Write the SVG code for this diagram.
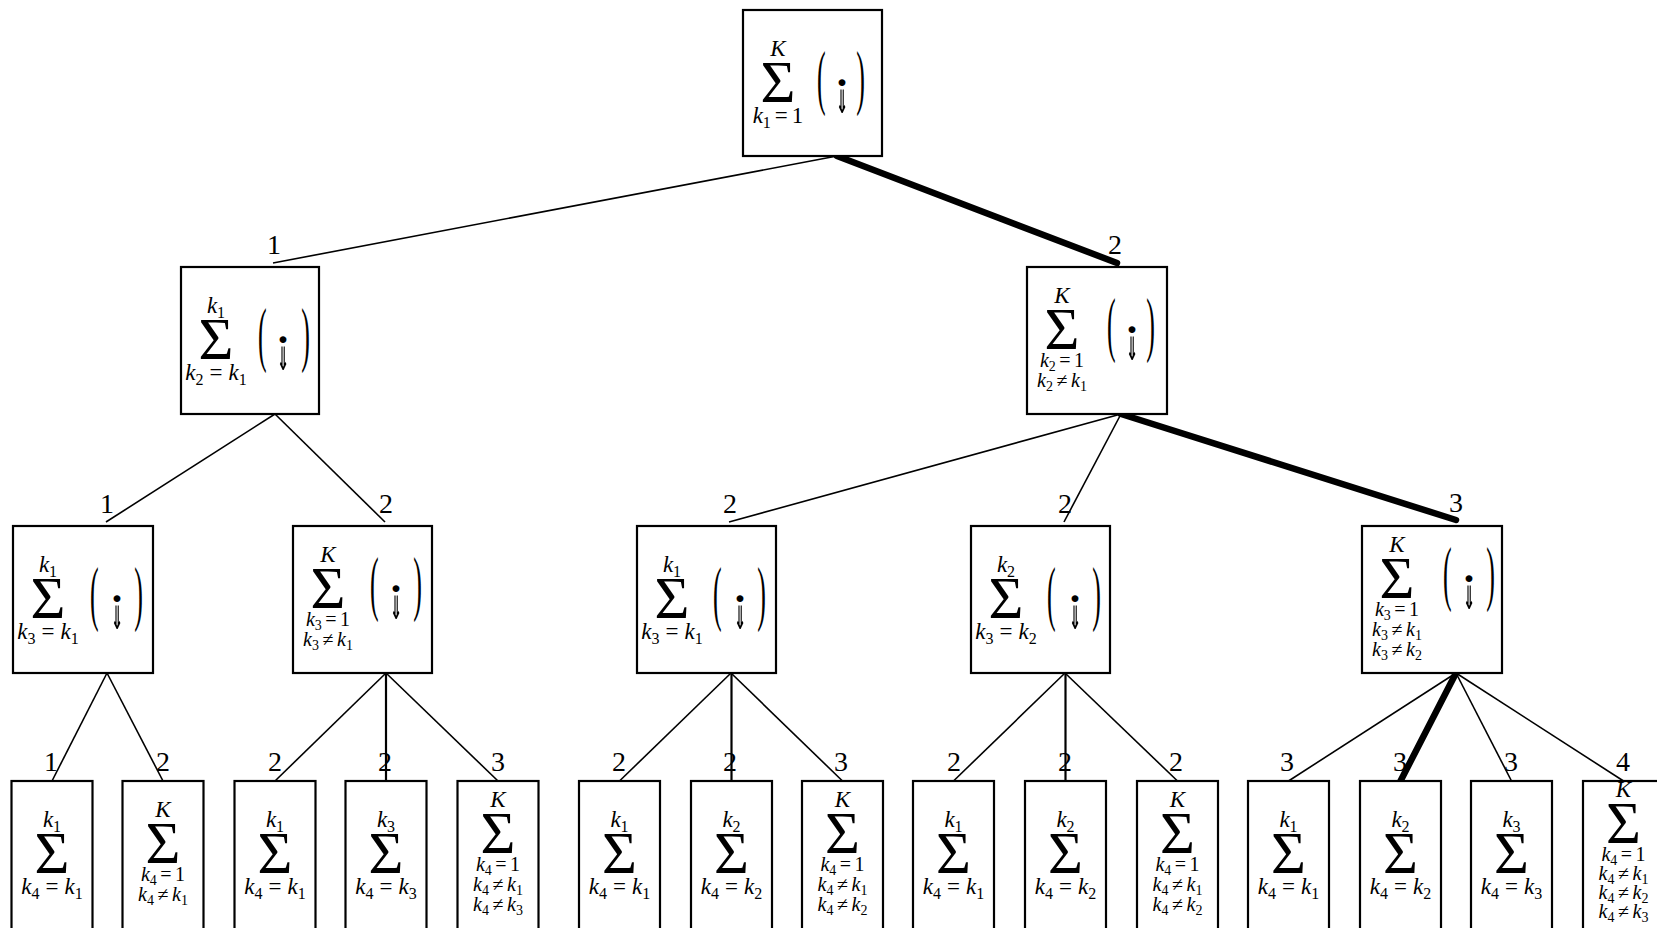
<svg xmlns="http://www.w3.org/2000/svg" width="1657" height="928" viewBox="0 0 1657 928">
<defs>
<filter id="bw" x="-20%" y="-20%" width="140%" height="140%"><feColorMatrix type="saturate" values="0"/></filter>
</defs>
<style>
.box{fill:#fff;stroke:#000;stroke-width:2.2}
.lim{font-family:"Liberation Serif",serif;font-style:italic;font-size:23px;text-anchor:middle}
.lim2{font-family:"Liberation Serif",serif;font-style:italic;font-size:20px;text-anchor:middle}
.s{font-style:normal;font-size:16px}
.lim2 .s{font-size:14px}
.r{font-style:normal}
.sig{font-family:"Liberation Serif",serif;font-size:60px;text-anchor:middle}
.par{font-family:"Liberation Serif",serif;font-size:26px}
.e{text-anchor:end}
.dot{font-family:"Liberation Serif",serif;font-size:42px;font-weight:bold;text-anchor:middle}
.arr{font-family:"DejaVu Sans",sans-serif;font-size:17px;font-weight:bold;text-anchor:middle;fill:#000;filter:url(#bw)}
.lbl{font-family:"Liberation Serif",serif;font-size:28px;text-anchor:middle}
.ln{stroke:#000;stroke-width:1.6;fill:none}
.vl{stroke:#000;stroke-width:2.2;fill:none}
.thick{stroke:#000;stroke-width:6.5;stroke-linecap:round;fill:none}
</style>
<rect width="1657" height="928" fill="#fff"/>
<g id="connectors">
<line class="ln" x1="837" y1="156" x2="273" y2="263"/>
<line class="thick" x1="837" y1="156" x2="1117" y2="263"/>
<line class="ln" x1="275" y1="414" x2="106" y2="522"/>
<line class="ln" x1="275" y1="414" x2="385" y2="522"/>
<line class="ln" x1="1121" y1="414" x2="729" y2="522"/>
<line class="ln" x1="1121" y1="414" x2="1064" y2="522"/>
<line class="thick" x1="1121" y1="414" x2="1456" y2="520"/>
<line class="ln" x1="107" y1="673" x2="52" y2="781"/>
<line class="ln" x1="107" y1="673" x2="163" y2="781"/>
<line class="ln" x1="386" y1="673" x2="275" y2="781"/>
<line class="vl" x1="386" y1="673" x2="386" y2="781"/>
<line class="ln" x1="386" y1="673" x2="498" y2="781"/>
<line class="ln" x1="731" y1="673" x2="619.5" y2="781"/>
<line class="vl" x1="731.5" y1="673" x2="731.5" y2="781"/>
<line class="ln" x1="731" y1="673" x2="842.5" y2="781"/>
<line class="ln" x1="1065" y1="673" x2="953.5" y2="781"/>
<line class="vl" x1="1065.5" y1="673" x2="1065.5" y2="781"/>
<line class="ln" x1="1065" y1="673" x2="1177.5" y2="781"/>
<line class="ln" x1="1456" y1="673" x2="1288.5" y2="781"/>
<line class="thick" x1="1456" y1="673" x2="1400.5" y2="781"/>
<line class="ln" x1="1456" y1="673" x2="1511.5" y2="781"/>
<line class="ln" x1="1456" y1="673" x2="1623.5" y2="781"/>
<text class="lbl" x="274" y="254">1</text>
<text class="lbl" x="1115" y="254">2</text>
<text class="lbl" x="107" y="513">1</text>
<text class="lbl" x="386" y="513">2</text>
<text class="lbl" x="730" y="513">2</text>
<text class="lbl" x="1065" y="513">2</text>
<text class="lbl" x="1456" y="512">3</text>
<text class="lbl" x="51" y="771">1</text>
<text class="lbl" x="163" y="771">2</text>
<text class="lbl" x="275" y="771">2</text>
<text class="lbl" x="385" y="771">2</text>
<text class="lbl" x="498" y="771">3</text>
<text class="lbl" x="619" y="771">2</text>
<text class="lbl" x="730" y="771">2</text>
<text class="lbl" x="841" y="771">3</text>
<text class="lbl" x="954" y="771">2</text>
<text class="lbl" x="1065" y="771">2</text>
<text class="lbl" x="1176" y="771">2</text>
<text class="lbl" x="1287" y="771">3</text>
<text class="lbl" x="1400" y="771">3</text>
<text class="lbl" x="1511" y="771">3</text>
<text class="lbl" x="1623" y="771">4</text>
</g>

<g id="root">
<rect class="box" x="743" y="10" width="139" height="146"/>
<text class="lim" x="778" y="56">K</text>
<text class="sig" x="778" y="102">Σ</text>
<text class="lim" x="778" y="123"><tspan>k</tspan><tspan class="s" dy="5">1</tspan><tspan class="r" dx="4" dy="-5">=</tspan><tspan class="r" dx="4">1</tspan></text>
<text class="par" transform="translate(817,83) scale(1,2.8)" y="6.6">(</text>
<text class="par e" transform="translate(865,83) scale(1,2.8)" y="6.6">)</text>
<text class="dot" x="842" y="97">·</text>
<text class="arr" transform="translate(842,113) scale(0.85,1.9)">⇓</text>
</g>

<g id="n2a">
<rect class="box" x="181" y="267" width="138" height="147"/>
<text class="lim" x="216" y="313">k<tspan class="s" dy="5">1</tspan></text>
<text class="sig" x="216" y="359">Σ</text>
<text class="lim" x="216" y="380"><tspan>k</tspan><tspan class="s" dy="5">2</tspan><tspan class="r" dx="6" dy="-5">=</tspan><tspan dx="6">k</tspan><tspan class="s" dy="5">1</tspan></text>
<text class="par" transform="translate(258,340) scale(1,2.8)" y="6.6">(</text>
<text class="par e" transform="translate(310,340) scale(1,2.8)" y="6.6">)</text>
<text class="dot" x="283" y="354">·</text>
<text class="arr" transform="translate(283,370) scale(0.85,1.9)">⇓</text>
</g>

<g id="n2b">
<rect class="box" x="1027" y="267" width="140" height="147"/>
<text class="lim" x="1062" y="303">K</text>
<text class="sig" x="1062" y="349">Σ</text>
<text class="lim2" x="1062" y="367"><tspan>k</tspan><tspan class="s" dy="4">2</tspan><tspan class="r" dx="3.5" dy="-4">=</tspan><tspan class="r" dx="3.5">1</tspan></text>
<text class="lim2" x="1062" y="387"><tspan>k</tspan><tspan class="s" dy="4">2</tspan><tspan class="r" dx="3.5" dy="-4">≠</tspan><tspan dx="3.5">k</tspan><tspan class="s" dy="4">1</tspan></text>
<text class="par" transform="translate(1107,330) scale(1,2.8)" y="6.6">(</text>
<text class="par e" transform="translate(1155,330) scale(1,2.8)" y="6.6">)</text>
<text class="dot" x="1132" y="344">·</text>
<text class="arr" transform="translate(1132,360) scale(0.85,1.9)">⇓</text>
</g>

<g id="n3a">
<rect class="box" x="13" y="526" width="140" height="147"/>
<text class="lim" x="48" y="572">k<tspan class="s" dy="5">1</tspan></text>
<text class="sig" x="48" y="618">Σ</text>
<text class="lim" x="48" y="639"><tspan>k</tspan><tspan class="s" dy="5">3</tspan><tspan class="r" dx="6" dy="-5">=</tspan><tspan dx="6">k</tspan><tspan class="s" dy="5">1</tspan></text>
<text class="par" transform="translate(90,599) scale(1,2.8)" y="6.6">(</text>
<text class="par e" transform="translate(143,599) scale(1,2.8)" y="6.6">)</text>
<text class="dot" x="117" y="613">·</text>
<text class="arr" transform="translate(117,629) scale(0.85,1.9)">⇓</text>
</g>

<g id="n3b">
<rect class="box" x="293" y="526" width="139" height="147"/>
<text class="lim" x="328" y="562">K</text>
<text class="sig" x="328" y="608">Σ</text>
<text class="lim2" x="328" y="626"><tspan>k</tspan><tspan class="s" dy="4">3</tspan><tspan class="r" dx="3.5" dy="-4">=</tspan><tspan class="r" dx="3.5">1</tspan></text>
<text class="lim2" x="328" y="646"><tspan>k</tspan><tspan class="s" dy="4">3</tspan><tspan class="r" dx="3.5" dy="-4">≠</tspan><tspan dx="3.5">k</tspan><tspan class="s" dy="4">1</tspan></text>
<text class="par" transform="translate(370,589) scale(1,2.8)" y="6.6">(</text>
<text class="par e" transform="translate(422,589) scale(1,2.8)" y="6.6">)</text>
<text class="dot" x="396" y="603">·</text>
<text class="arr" transform="translate(396,619) scale(0.85,1.9)">⇓</text>
</g>

<g id="n3c">
<rect class="box" x="637" y="526" width="139" height="147"/>
<text class="lim" x="672" y="572">k<tspan class="s" dy="5">1</tspan></text>
<text class="sig" x="672" y="618">Σ</text>
<text class="lim" x="672" y="639"><tspan>k</tspan><tspan class="s" dy="5">3</tspan><tspan class="r" dx="6" dy="-5">=</tspan><tspan dx="6">k</tspan><tspan class="s" dy="5">1</tspan></text>
<text class="par" transform="translate(713,599) scale(1,2.8)" y="6.6">(</text>
<text class="par e" transform="translate(766,599) scale(1,2.8)" y="6.6">)</text>
<text class="dot" x="740" y="613">·</text>
<text class="arr" transform="translate(740,629) scale(0.85,1.9)">⇓</text>
</g>

<g id="n3d">
<rect class="box" x="971" y="526" width="139" height="147"/>
<text class="lim" x="1006" y="572">k<tspan class="s" dy="5">2</tspan></text>
<text class="sig" x="1006" y="618">Σ</text>
<text class="lim" x="1006" y="639"><tspan>k</tspan><tspan class="s" dy="5">3</tspan><tspan class="r" dx="6" dy="-5">=</tspan><tspan dx="6">k</tspan><tspan class="s" dy="5">2</tspan></text>
<text class="par" transform="translate(1047,599) scale(1,2.8)" y="6.6">(</text>
<text class="par e" transform="translate(1101,599) scale(1,2.8)" y="6.6">)</text>
<text class="dot" x="1075" y="613">·</text>
<text class="arr" transform="translate(1075,629) scale(0.85,1.9)">⇓</text>
</g>

<g id="n3e">
<rect class="box" x="1362" y="526" width="140" height="147"/>
<text class="lim" x="1397" y="552">K</text>
<text class="sig" x="1397" y="598">Σ</text>
<text class="lim2" x="1397" y="616"><tspan>k</tspan><tspan class="s" dy="4">3</tspan><tspan class="r" dx="3.5" dy="-4">=</tspan><tspan class="r" dx="3.5">1</tspan></text>
<text class="lim2" x="1397" y="636"><tspan>k</tspan><tspan class="s" dy="4">3</tspan><tspan class="r" dx="3.5" dy="-4">≠</tspan><tspan dx="3.5">k</tspan><tspan class="s" dy="4">1</tspan></text>
<text class="lim2" x="1397" y="656"><tspan>k</tspan><tspan class="s" dy="4">3</tspan><tspan class="r" dx="3.5" dy="-4">≠</tspan><tspan dx="3.5">k</tspan><tspan class="s" dy="4">2</tspan></text>
<text class="par" transform="translate(1443,579) scale(1,2.8)" y="6.6">(</text>
<text class="par e" transform="translate(1495,579) scale(1,2.8)" y="6.6">)</text>
<text class="dot" x="1469" y="593">·</text>
<text class="arr" transform="translate(1469,609) scale(0.85,1.9)">⇓</text>
</g>

<g id="n4-1">
<rect class="box" x="11.5" y="781" width="81" height="150"/>
<text class="lim" x="52" y="827">k<tspan class="s" dy="5">1</tspan></text>
<text class="sig" x="52" y="873">Σ</text>
<text class="lim" x="52" y="894"><tspan>k</tspan><tspan class="s" dy="5">4</tspan><tspan class="r" dx="6" dy="-5">=</tspan><tspan dx="6">k</tspan><tspan class="s" dy="5">1</tspan></text>
</g>
<g id="n4-2">
<rect class="box" x="122.5" y="781" width="81" height="150"/>
<text class="lim" x="163" y="817">K</text>
<text class="sig" x="163" y="863">Σ</text>
<text class="lim2" x="163" y="881"><tspan>k</tspan><tspan class="s" dy="4">4</tspan><tspan class="r" dx="3.5" dy="-4">=</tspan><tspan class="r" dx="3.5">1</tspan></text>
<text class="lim2" x="163" y="901"><tspan>k</tspan><tspan class="s" dy="4">4</tspan><tspan class="r" dx="3.5" dy="-4">≠</tspan><tspan dx="3.5">k</tspan><tspan class="s" dy="4">1</tspan></text>
</g>
<g id="n4-3">
<rect class="box" x="234.5" y="781" width="81" height="150"/>
<text class="lim" x="275" y="827">k<tspan class="s" dy="5">1</tspan></text>
<text class="sig" x="275" y="873">Σ</text>
<text class="lim" x="275" y="894"><tspan>k</tspan><tspan class="s" dy="5">4</tspan><tspan class="r" dx="6" dy="-5">=</tspan><tspan dx="6">k</tspan><tspan class="s" dy="5">1</tspan></text>
</g>
<g id="n4-4">
<rect class="box" x="345.5" y="781" width="81" height="150"/>
<text class="lim" x="386" y="827">k<tspan class="s" dy="5">3</tspan></text>
<text class="sig" x="386" y="873">Σ</text>
<text class="lim" x="386" y="894"><tspan>k</tspan><tspan class="s" dy="5">4</tspan><tspan class="r" dx="6" dy="-5">=</tspan><tspan dx="6">k</tspan><tspan class="s" dy="5">3</tspan></text>
</g>
<g id="n4-5">
<rect class="box" x="457.5" y="781" width="81" height="150"/>
<text class="lim" x="498" y="807">K</text>
<text class="sig" x="498" y="853">Σ</text>
<text class="lim2" x="498" y="871"><tspan>k</tspan><tspan class="s" dy="4">4</tspan><tspan class="r" dx="3.5" dy="-4">=</tspan><tspan class="r" dx="3.5">1</tspan></text>
<text class="lim2" x="498" y="891"><tspan>k</tspan><tspan class="s" dy="4">4</tspan><tspan class="r" dx="3.5" dy="-4">≠</tspan><tspan dx="3.5">k</tspan><tspan class="s" dy="4">1</tspan></text>
<text class="lim2" x="498" y="911"><tspan>k</tspan><tspan class="s" dy="4">4</tspan><tspan class="r" dx="3.5" dy="-4">≠</tspan><tspan dx="3.5">k</tspan><tspan class="s" dy="4">3</tspan></text>
</g>
<g id="n4-6">
<rect class="box" x="579" y="781" width="81" height="150"/>
<text class="lim" x="619.5" y="827">k<tspan class="s" dy="5">1</tspan></text>
<text class="sig" x="619.5" y="873">Σ</text>
<text class="lim" x="619.5" y="894"><tspan>k</tspan><tspan class="s" dy="5">4</tspan><tspan class="r" dx="6" dy="-5">=</tspan><tspan dx="6">k</tspan><tspan class="s" dy="5">1</tspan></text>
</g>
<g id="n4-7">
<rect class="box" x="691" y="781" width="81" height="150"/>
<text class="lim" x="731.5" y="827">k<tspan class="s" dy="5">2</tspan></text>
<text class="sig" x="731.5" y="873">Σ</text>
<text class="lim" x="731.5" y="894"><tspan>k</tspan><tspan class="s" dy="5">4</tspan><tspan class="r" dx="6" dy="-5">=</tspan><tspan dx="6">k</tspan><tspan class="s" dy="5">2</tspan></text>
</g>
<g id="n4-8">
<rect class="box" x="802" y="781" width="81" height="150"/>
<text class="lim" x="842.5" y="807">K</text>
<text class="sig" x="842.5" y="853">Σ</text>
<text class="lim2" x="842.5" y="871"><tspan>k</tspan><tspan class="s" dy="4">4</tspan><tspan class="r" dx="3.5" dy="-4">=</tspan><tspan class="r" dx="3.5">1</tspan></text>
<text class="lim2" x="842.5" y="891"><tspan>k</tspan><tspan class="s" dy="4">4</tspan><tspan class="r" dx="3.5" dy="-4">≠</tspan><tspan dx="3.5">k</tspan><tspan class="s" dy="4">1</tspan></text>
<text class="lim2" x="842.5" y="911"><tspan>k</tspan><tspan class="s" dy="4">4</tspan><tspan class="r" dx="3.5" dy="-4">≠</tspan><tspan dx="3.5">k</tspan><tspan class="s" dy="4">2</tspan></text>
</g>
<g id="n4-9">
<rect class="box" x="913" y="781" width="81" height="150"/>
<text class="lim" x="953.5" y="827">k<tspan class="s" dy="5">1</tspan></text>
<text class="sig" x="953.5" y="873">Σ</text>
<text class="lim" x="953.5" y="894"><tspan>k</tspan><tspan class="s" dy="5">4</tspan><tspan class="r" dx="6" dy="-5">=</tspan><tspan dx="6">k</tspan><tspan class="s" dy="5">1</tspan></text>
</g>
<g id="n4-10">
<rect class="box" x="1025" y="781" width="81" height="150"/>
<text class="lim" x="1065.5" y="827">k<tspan class="s" dy="5">2</tspan></text>
<text class="sig" x="1065.5" y="873">Σ</text>
<text class="lim" x="1065.5" y="894"><tspan>k</tspan><tspan class="s" dy="5">4</tspan><tspan class="r" dx="6" dy="-5">=</tspan><tspan dx="6">k</tspan><tspan class="s" dy="5">2</tspan></text>
</g>
<g id="n4-11">
<rect class="box" x="1137" y="781" width="81" height="150"/>
<text class="lim" x="1177.5" y="807">K</text>
<text class="sig" x="1177.5" y="853">Σ</text>
<text class="lim2" x="1177.5" y="871"><tspan>k</tspan><tspan class="s" dy="4">4</tspan><tspan class="r" dx="3.5" dy="-4">=</tspan><tspan class="r" dx="3.5">1</tspan></text>
<text class="lim2" x="1177.5" y="891"><tspan>k</tspan><tspan class="s" dy="4">4</tspan><tspan class="r" dx="3.5" dy="-4">≠</tspan><tspan dx="3.5">k</tspan><tspan class="s" dy="4">1</tspan></text>
<text class="lim2" x="1177.5" y="911"><tspan>k</tspan><tspan class="s" dy="4">4</tspan><tspan class="r" dx="3.5" dy="-4">≠</tspan><tspan dx="3.5">k</tspan><tspan class="s" dy="4">2</tspan></text>
</g>
<g id="n4-12">
<rect class="box" x="1248" y="781" width="81" height="150"/>
<text class="lim" x="1288.5" y="827">k<tspan class="s" dy="5">1</tspan></text>
<text class="sig" x="1288.5" y="873">Σ</text>
<text class="lim" x="1288.5" y="894"><tspan>k</tspan><tspan class="s" dy="5">4</tspan><tspan class="r" dx="6" dy="-5">=</tspan><tspan dx="6">k</tspan><tspan class="s" dy="5">1</tspan></text>
</g>
<g id="n4-13">
<rect class="box" x="1360" y="781" width="81" height="150"/>
<text class="lim" x="1400.5" y="827">k<tspan class="s" dy="5">2</tspan></text>
<text class="sig" x="1400.5" y="873">Σ</text>
<text class="lim" x="1400.5" y="894"><tspan>k</tspan><tspan class="s" dy="5">4</tspan><tspan class="r" dx="6" dy="-5">=</tspan><tspan dx="6">k</tspan><tspan class="s" dy="5">2</tspan></text>
</g>
<g id="n4-14">
<rect class="box" x="1471" y="781" width="81" height="150"/>
<text class="lim" x="1511.5" y="827">k<tspan class="s" dy="5">3</tspan></text>
<text class="sig" x="1511.5" y="873">Σ</text>
<text class="lim" x="1511.5" y="894"><tspan>k</tspan><tspan class="s" dy="5">4</tspan><tspan class="r" dx="6" dy="-5">=</tspan><tspan dx="6">k</tspan><tspan class="s" dy="5">3</tspan></text>
</g>
<g id="n4-15">
<rect class="box" x="1583" y="781" width="81" height="150"/>
<text class="lim" x="1623.5" y="797">K</text>
<text class="sig" x="1623.5" y="843">Σ</text>
<text class="lim2" x="1623.5" y="861"><tspan>k</tspan><tspan class="s" dy="4">4</tspan><tspan class="r" dx="3.5" dy="-4">=</tspan><tspan class="r" dx="3.5">1</tspan></text>
<text class="lim2" x="1623.5" y="880"><tspan>k</tspan><tspan class="s" dy="4">4</tspan><tspan class="r" dx="3.5" dy="-4">≠</tspan><tspan dx="3.5">k</tspan><tspan class="s" dy="4">1</tspan></text>
<text class="lim2" x="1623.5" y="899"><tspan>k</tspan><tspan class="s" dy="4">4</tspan><tspan class="r" dx="3.5" dy="-4">≠</tspan><tspan dx="3.5">k</tspan><tspan class="s" dy="4">2</tspan></text>
<text class="lim2" x="1623.5" y="918"><tspan>k</tspan><tspan class="s" dy="4">4</tspan><tspan class="r" dx="3.5" dy="-4">≠</tspan><tspan dx="3.5">k</tspan><tspan class="s" dy="4">3</tspan></text>
</g>
</svg>
